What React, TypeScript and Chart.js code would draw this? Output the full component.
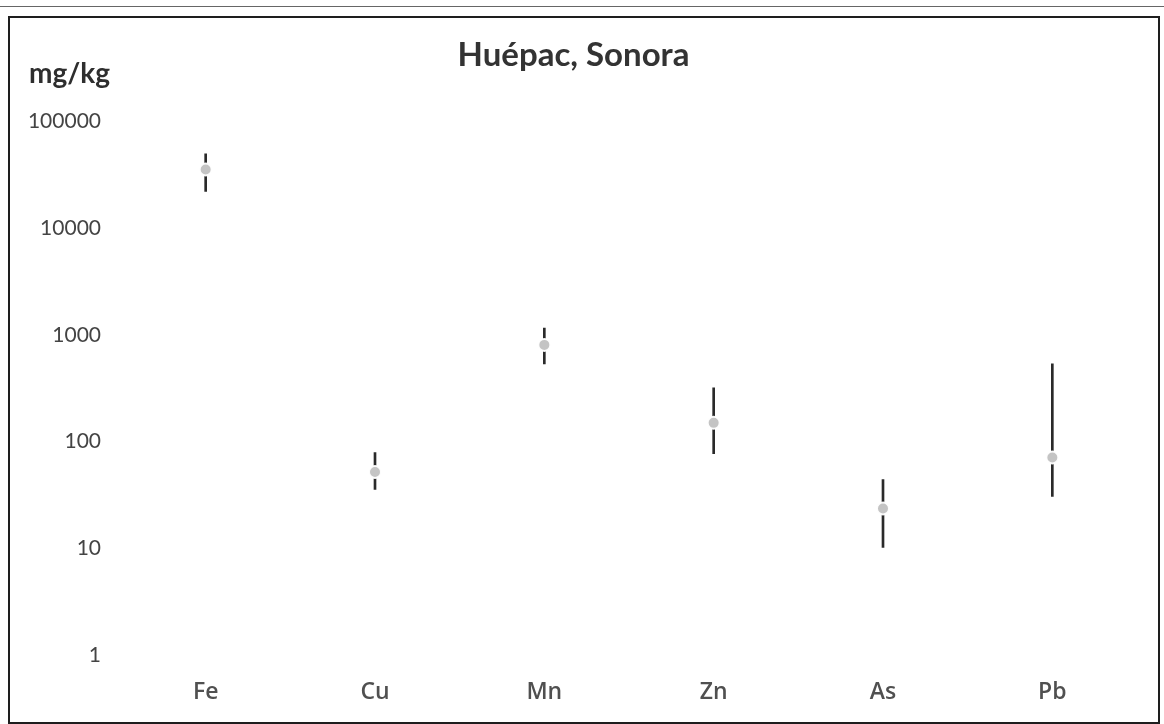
import React, { useEffect, useRef } from "react";
import { Chart, registerables } from "chart.js";

Chart.register(...registerables);

const CATEGORIES = ["Fe", "Cu", "Mn", "Zn", "As", "Pb"];
const MEAN_VALUES = [35600, 52, 807, 150, 23.6, 71];
const MIN_VALUES = [22200, 35.6, 536, 77, 10.2, 30.6];
const MAX_VALUES = [50000, 79, 1160, 320, 44, 536];
const Y_TICKS = [1, 10, 100, 1000, 10000, 100000];
const TITLE = "Huépac, Sonora";
const UNIT_LABEL = "mg/kg";

const unitPlugin = {
  id: "unitLabel",
  afterDraw(chart: any) {
    const ctx = chart.ctx;
    ctx.save();
    ctx.font = "bold 28px Lato";
    ctx.fillStyle = "#2e2e2e";
    ctx.textAlign = "left";
    ctx.textBaseline = "alphabetic";
    ctx.fillText(UNIT_LABEL, 19, 65);
    ctx.restore();
  },
};

export default function App() {
  const canvasRef = useRef<HTMLCanvasElement | null>(null);

  useEffect(() => {
    if (!canvasRef.current) return;
    const chart = new Chart(canvasRef.current, {
      type: "bar",
      data: {
        labels: CATEGORIES,
        datasets: [
          {
            type: "line",
            label: "Media",
            data: MEAN_VALUES,
            showLine: false,
            pointRadius: 6,
            pointBackgroundColor: "#c4c4c4",
            pointBorderColor: "rgba(255,255,255,0.95)",
            pointBorderWidth: 2,
            order: 0,
          } as any,
          {
            type: "bar",
            label: "Rango",
            data: CATEGORIES.map((_, i) => [MIN_VALUES[i], MAX_VALUES[i]]),
            backgroundColor: "#2a2a2a",
            borderWidth: 0,
            barThickness: 2,
            order: 1,
          } as any,
        ],
      },
      options: {
        responsive: false,
        animation: false,
        layout: { padding: { left: 0, right: 21, top: 0, bottom: 0 } },
        plugins: {
          legend: { display: false },
          tooltip: { enabled: false },
          title: {
            display: true,
            text: TITLE,
            color: "#333333",
            font: { family: "Lato", size: 33, weight: "bold" },
            padding: { top: 18, bottom: 46 },
          },
        },
        scales: {
          x: {
            type: "category",
            grid: { display: false, drawTicks: false },
            border: { display: false },
            ticks: {
              color: "#505050",
              font: { family: "Open Sans", size: 23, weight: "600" },
              padding: 24,
            },
            afterFit(scale: any) {
              scale.height = 67;
            },
          },
          y: {
            type: "logarithmic",
            min: 1,
            max: 100000,
            grid: { display: false, drawTicks: false },
            border: { display: false },
            afterBuildTicks(scale: any) {
              scale.ticks = Y_TICKS.map((v) => ({ value: v }));
            },
            ticks: {
              color: "#444444",
              font: { family: "Lato", size: 21 },
              padding: 20,
              callback: (v: any) => String(v),
            },
            afterFit(scale: any) {
              scale.width = 111;
            },
          },
        },
      },
      plugins: [unitPlugin],
    });
    return () => chart.destroy();
  }, []);

  return (
    <div
      style={{
        position: "fixed",
        left: 0,
        top: 0,
        width: 1164,
        height: 724,
        background: "#ffffff",
        overflow: "hidden",
      }}
    >
      <div
        style={{
          position: "absolute",
          left: 0,
          top: 6,
          width: 1164,
          height: 1,
          background: "#666666",
        }}
      />
      <div
        style={{
          position: "absolute",
          left: 8,
          top: 16,
          width: 1152,
          height: 708,
          border: "2px solid #1e1e1e",
          boxSizing: "border-box",
        }}
      >
        <canvas
          ref={canvasRef}
          width={1148}
          height={704}
          style={{ display: "block", width: 1148, height: 704 }}
        />
      </div>
    </div>
  );
}
